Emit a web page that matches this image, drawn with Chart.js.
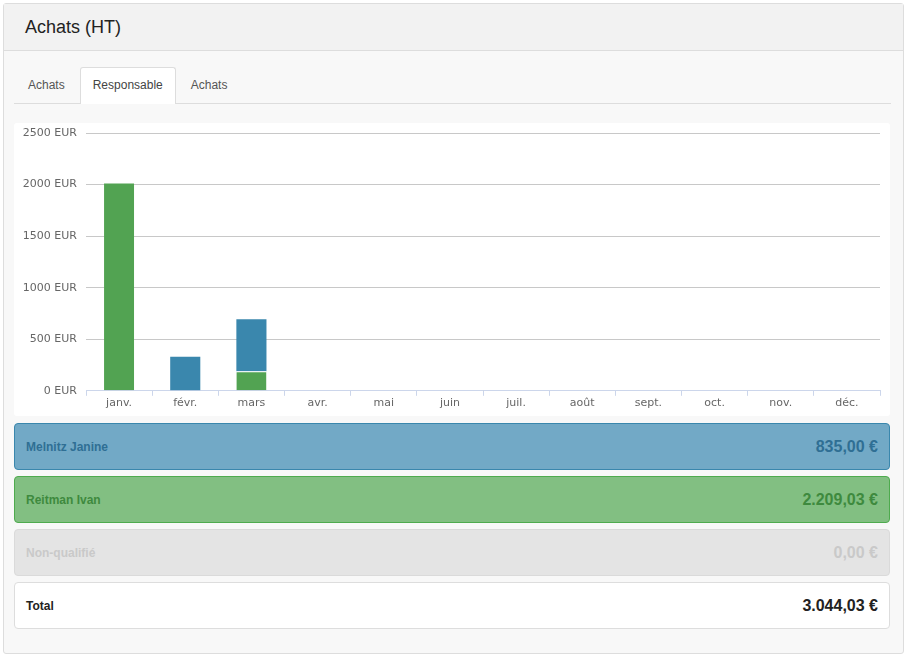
<!DOCTYPE html>
<html lang="fr">
<head>
<meta charset="utf-8">
<script src="https://cdn.jsdelivr.net/npm/chart.js@4.4.1/dist/chart.umd.min.js"></script>
<style>
  html, body { margin: 0; padding: 0; background: #fff; }
  body { width: 906px; height: 657px; position: relative; font-family: "Liberation Sans", Arial, sans-serif; }
  .panel { position: absolute; left: 3px; top: 3px; width: 901px; height: 651px; border: 1px solid #ddd; border-radius: 3px; background: #f8f8f8; box-sizing: border-box; }
  .panel-head { height: 47px; background: #f2f2f2; border-bottom: 1px solid #ddd; box-sizing: border-box; padding-left: 21px; line-height: 46px; font-size: 18px; color: #222; }
  .tabs { position: absolute; left: 10px; top: 62px; width: 877px; height: 37px; border-bottom: 1px solid #ddd; display: flex; align-items: flex-end; }
  .tabs div { font-size: 12px; color: #555; padding: 9px 12px 10px; line-height: 17px; margin: 0 2px -1px 0; border: 1px solid transparent; border-bottom: none; border-radius: 3px 3px 0 0; }
  .tabs div:first-child { margin-left: 1px; }
  .tabs div.active { background: #fff; border-color: #ddd; color: #444; }
  .chart-box { position: absolute; left: 10px; top: 119px; width: 876px; height: 293px; background: #fff; border-radius: 3px; }
  .row { position: absolute; left: 10px; width: 876px; height: 47px; box-sizing: border-box; border: 1px solid; border-radius: 4px; display: flex; justify-content: space-between; align-items: center; padding: 0 11px; font-weight: bold; }
  .row .lbl { font-size: 12px; }
  .row .val { font-size: 16px; }
</style>
</head>
<body>
<div class="panel">
  <div class="panel-head">Achats (HT)</div>
  <div class="tabs">
    <div>Achats</div>
    <div class="active">Responsable</div>
    <div>Achats</div>
  </div>
  <div class="chart-box"><canvas id="chart" width="876" height="293"></canvas></div>
  <div id="rows"></div>
</div>
<script>
const months = ['janv.', 'févr.', 'mars', 'avr.', 'mai', 'juin', 'juil.', 'août', 'sept.', 'oct.', 'nov.', 'déc.'];
const reitmanValues = [2020, null, 189.03, null, null, null, null, null, null, null, null, null];
const melnitzValues = [null, 330, 505, null, null, null, null, null, null, null, null, null];
const yTicks = [0, 500, 1000, 1500, 2000, 2500];

const people = ['Melnitz Janine', 'Reitman Ivan', 'Non-qualifié', 'Total'];
const totals = ['835,00 €', '2.209,03 €', '0,00 €', '3.044,03 €'];

const rowStyles = [
  { bg: '#72a9c6', border: '#3a87ad', color: '#2f6f94' },
  { bg: '#82bf82', border: '#4eab4e', color: '#3e8a3e' },
  { bg: '#e4e4e4', border: '#dadada', color: '#c9c9c9' },
  { bg: '#ffffff', border: '#dddddd', color: '#222' }
];

const rowsEl = document.getElementById('rows');
people.forEach((name, i) => {
  const el = document.createElement('div');
  const st = rowStyles[i];
  el.className = 'row';
  el.style.top = `${419 + i * 53}px`;
  el.style.background = st.bg;
  el.style.borderColor = st.border;
  el.style.color = st.color;
  el.innerHTML = `<span class="lbl">${name}</span><span class="val">${totals[i]}</span>`;
  rowsEl.appendChild(el);
});

const axisFont = { family: "'DejaVu Sans', Verdana, sans-serif", size: 11 };

new Chart(document.getElementById('chart'), {
  type: 'bar',
  data: {
    labels: months,
    datasets: [
      {
        label: 'Reitman Ivan',
        data: reitmanValues,
        backgroundColor: '#52a352',
        borderColor: '#ffffff',
        borderWidth: { top: 1, left: 0, right: 0, bottom: 0 },
        borderSkipped: false,
        barPercentage: 0.455,
        categoryPercentage: 1
      },
      {
        label: 'Melnitz Janine',
        data: melnitzValues,
        backgroundColor: '#3a87ad',
        borderWidth: 0,
        barPercentage: 0.455,
        categoryPercentage: 1
      }
    ]
  },
  options: {
    responsive: false,
    animation: false,
    layout: { padding: { top: 10, right: 10, left: 0, bottom: 5 } },
    plugins: { legend: { display: false }, tooltip: { enabled: false } },
    scales: {
      x: {
        stacked: true,
        grid: { drawOnChartArea: false, drawTicks: true, tickLength: 5, color: '#ccd6eb', offset: true },
        border: { color: '#ccd6eb' },
        ticks: { color: '#666', font: axisFont, padding: 1 }
      },
      y: {
        stacked: true,
        min: 0,
        max: 2500,
        afterBuildTicks(axis) {
          axis.ticks = yTicks.map((v) => ({ value: v }));
        },
        afterFit(axis) {
          axis.width = 72;
          axis.paddingTop = 0;
        },
        grid: { color: '#c8c8c8', drawTicks: false },
        border: { display: false },
        ticks: {
          color: '#666',
          font: axisFont,
          padding: 9,
          callback(value) {
            return `${value} EUR`;
          }
        }
      }
    }
  }
});
</script>
</body>
</html>
